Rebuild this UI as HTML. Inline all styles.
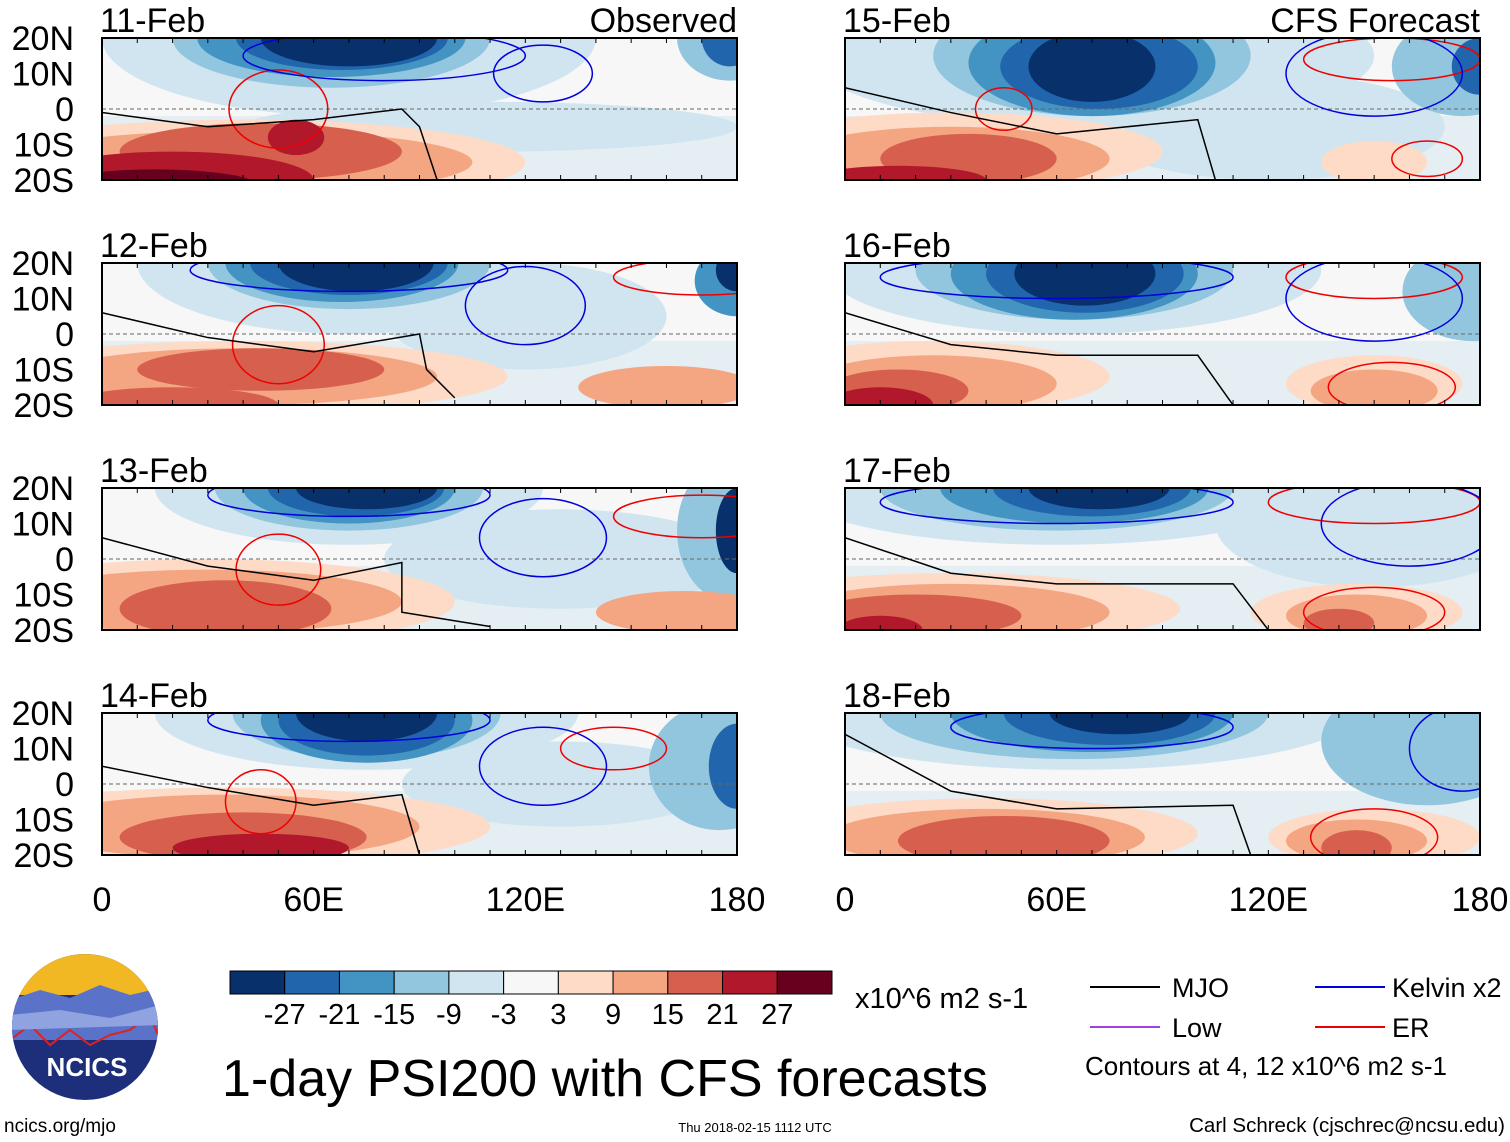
<!DOCTYPE html>
<html><head><meta charset="utf-8"><style>
body{margin:0;background:#fff;width:1510px;height:1142px;overflow:hidden;font-family:"Liberation Sans",sans-serif}
svg{position:absolute;left:0;top:0}
</style></head><body>
<svg id="s" width="1510" height="1142" xmlns="http://www.w3.org/2000/svg"></svg>
<script>
const colors=["#08306b","#2166ac","#4393c3","#92c5de","#d1e5f0","#f7f7f7","#fddbc7","#f4a582","#d6604d","#b2182b","#67001f"];
const levelLabels=["-27","-21","-15","-9","-3","3","9","15","21","27"];
const panelTitles=["11-Feb","12-Feb","13-Feb","14-Feb","15-Feb","16-Feb","17-Feb","18-Feb"];
const latTicks=[20,10,0,-10,-20];
const latLabels=["20N","10N","0","10S","20S"];
const lonTicks=[0,60,120,180];
const lonLabels=["0","60E","120E","180"];
// blobs: [lon, lat, rxDeg, ryDeg, level(-5..5)]
const blobs=[
[[70,20,70,22,-1],[110,-5,70,7,-1],[65,20,45,14,-2],[65,20,38,11,-3],[68,20,30,9,-4],[70,20,25,8,-5],[178,20,15,12,-2],[178,20,8,8,-4],[40,-15,80,12,1],[40,-15,65,9,2],[45,-12,40,8,3],[20,-20,40,8,4],[55,-8,8,5,4],[15,-22,30,5,5]],
[[70,20,60,20,-1],[120,5,40,15,-1],[70,20,40,13,-2],[68,20,33,11,-3],[70,20,28,9,-4],[72,20,22,8,-5],[180,15,12,10,-3],[180,18,6,6,-5],[40,-12,75,10,1],[40,-12,55,8,2],[160,-15,25,6,2],[45,-10,35,6,3],[20,-20,30,5,3]],
[[70,20,55,16,-1],[130,0,50,14,-1],[70,20,38,12,-2],[178,8,15,20,-2],[70,20,30,10,-3],[72,20,25,8,-4],[75,20,20,6,-5],[180,8,6,12,-5],[30,-12,70,12,1],[30,-12,55,9,2],[165,-15,25,6,2],[35,-14,30,8,3]],
[[75,20,60,16,-1],[130,0,45,12,-1],[75,20,38,13,-2],[175,5,20,18,-2],[75,18,30,12,-3],[75,18,25,10,-4],[180,5,8,12,-4],[75,20,20,8,-5],[35,-12,75,11,1],[35,-12,55,9,2],[40,-15,35,7,3],[45,-18,25,4,4]],
[[70,15,80,20,-1],[120,-5,50,15,-1],[70,15,45,17,-2],[175,12,20,14,-2],[70,13,35,15,-3],[72,12,28,12,-4],[180,12,8,8,-4],[70,12,18,10,-5],[30,-12,60,11,1],[150,-15,15,6,1],[30,-14,45,9,2],[35,-14,25,7,3],[15,-20,25,4,4]],
[[65,18,70,18,-1],[65,18,45,14,-2],[178,12,20,14,-2],[65,17,35,13,-3],[68,17,28,11,-4],[68,17,20,9,-5],[25,-12,50,10,1],[150,-14,25,8,1],[25,-14,35,8,2],[150,-16,18,6,2],[15,-16,20,6,3],[10,-20,15,5,4]],
[[60,20,75,16,-1],[150,10,45,18,-1],[60,20,50,12,-2],[65,20,38,10,-3],[70,20,28,8,-4],[72,20,20,6,-5],[30,-14,65,10,1],[145,-15,30,8,1],[30,-15,45,8,2],[145,-16,20,6,2],[20,-16,30,6,3],[140,-18,10,4,3],[10,-20,12,4,4]],
[[65,20,80,16,-1],[65,20,55,13,-2],[165,12,30,18,-2],[70,20,40,11,-3],[75,20,30,9,-4],[78,20,20,6,-5],[40,-14,60,10,1],[150,-15,30,8,1],[40,-15,45,8,2],[145,-16,20,6,2],[45,-16,30,7,3],[145,-18,10,5,3]]
];
const mjoLines=[
[[0,-1],[30,-5],[60,-3],[85,0],[90,-5],[95,-20]],
[[0,6],[30,-1],[60,-5],[90,0],[92,-10],[100,-18]],
[[0,6],[30,-2],[60,-6],[85,-1],[85,-15],[110,-19]],
[[0,5],[30,-1],[60,-6],[85,-3],[90,-20]],
[[0,6],[30,-1],[60,-7],[100,-3],[105,-20]],
[[0,6],[30,-3],[60,-6],[100,-6],[110,-20]],
[[0,6],[30,-4],[60,-7],[110,-7],[120,-20]],
[[0,14],[30,-2],[60,-7],[110,-6],[115,-20]]
];
const erRings=[[[50,0,14,11]],[[50,-3,13,11],[170,16,25,5]],[[50,-3,12,10],[170,12,25,6]],[[45,-5,10,9],[145,10,15,6]],[[45,0,8,6],[155,14,25,6],[165,-14,10,5]],[[150,16,25,6],[155,-15,18,7]],[[150,16,30,6],[150,-15,20,7]],[[150,-15,18,8]]];
const kelvinRings=[[[80,15,40,7],[125,10,14,8]],[[120,8,17,11],[70,18,45,6]],[[125,6,18,11],[70,18,40,6]],[[125,5,18,11],[70,18,40,6]],[[150,10,25,12]],[[150,10,25,12],[60,16,50,6]],[[160,10,25,12],[60,16,50,6]],[[175,10,15,12],[70,16,40,6]]];

const S=document.getElementById('s');const NS="http://www.w3.org/2000/svg";
function mk(t,a,p){const e=document.createElementNS(NS,t);for(const k in a)e.setAttribute(k,a[k]);(p||S).appendChild(e);return e;}
function txt(x,y,s,size,anchor,p){const e=mk('text',{x:x,y:y,'font-size':size,'text-anchor':anchor||'start',fill:'#000'},p);e.textContent=s;return e;}
const PW=635,PH=142;
const lefts=[102,845],tops=[38,263,488,713];
panelTitles.forEach((t,i)=>{
 const col=i<4?0:1,row=i%4,x0=lefts[col],y0=tops[row];
 const X=lon=>x0+lon/180*PW, Y=lat=>y0+(20-lat)/40*PH;
 const g=mk('g',{});
 
 
 mk('clipPath',{id:'c'+i},g);mk('rect',{x:x0,y:y0,width:PW,height:PH},g.lastChild);
 const inner=mk('g',{'clip-path':'url(#c'+i+')'},g);
 mk('rect',{x:x0,y:y0,width:PW,height:PH,fill:colors[5]},inner);
 mk('rect',{x:x0,y:Y(-2),width:PW,height:Y(-20)-Y(-2),fill:colors[4],opacity:0.5},inner);
 blobs[i].forEach(b=>{const e=mk('ellipse',{cx:X(b[0]),cy:Y(b[1]),rx:b[2]/180*PW,ry:b[3]/40*PH,fill:colors[b[4]+5]},inner);
  });
 mk('line',{x1:x0,x2:x0+PW,y1:Y(0),y2:Y(0),stroke:'#666','stroke-dasharray':'4,3','stroke-width':1},inner);
 erRings[i].forEach(r=>{const e=mk('ellipse',{cx:X(r[0]),cy:Y(r[1]),rx:r[2]/180*PW,ry:r[3]/40*PH,fill:'none',stroke:'#e00','stroke-width':1.5},inner);});
 kelvinRings[i].forEach(r=>{const e=mk('ellipse',{cx:X(r[0]),cy:Y(r[1]),rx:r[2]/180*PW,ry:r[3]/40*PH,fill:'none',stroke:'#00d','stroke-width':1.5},inner);});
 const ml=mk('polyline',{points:mjoLines[i].map(p=>X(p[0])+','+Y(p[1])).join(' '),fill:'none',stroke:'#000','stroke-width':1.5},inner);
 
 mk('rect',{x:x0,y:y0,width:PW,height:PH,fill:'none',stroke:'#000','stroke-width':2},g);
 for(let l=0;l<=180;l+=10){mk('line',{x1:X(l),x2:X(l),y1:y0,y2:y0+5,stroke:'#000'},g);mk('line',{x1:X(l),x2:X(l),y1:y0+PH,y2:y0+PH-5,stroke:'#000'},g);}
 const tt=txt(x0-2,y0-6,t,34,'start',g);
 if(i==0)txt(x0+PW,y0-6,'Observed',34,'end',g);
 if(i==4)txt(x0+PW,y0-6,'CFS Forecast',34,'end',g);
 if(col==0)latTicks.forEach((v,k)=>{const e=txt(74,Y(v)+12,latLabels[k],34,'end',g);});
 if(row==3)lonTicks.forEach((v,k)=>{const e=txt(X(v),911,lonLabels[k],34,'middle',g);});
});
const cb=mk('g',{});
const bw=602/colors.length;
colors.forEach((c,k)=>mk('rect',{x:230+k*bw,y:971,width:bw,height:23,fill:c,stroke:'#000','stroke-width':1},cb));
levelLabels.forEach((s,k)=>txt(230+(k+1)*bw,1024,s,29,'middle',cb));
txt(855,1008,'x10^6 m2 s-1',29,'start',cb);
const ti=txt(605,1096,'1-day PSI200 with CFS forecasts',52,'middle');
const lg=mk('g',{});
[[1090,987,'#000','MJO',1172],[1090,1027,'#a040e0','Low',1172],[1315,987,'#00d','Kelvin x2',1392],[1315,1027,'#e00','ER',1392]].forEach(a=>{
 mk('line',{x1:a[0],x2:a[0]+70,y1:a[1],y2:a[1],stroke:a[2],'stroke-width':2},lg);txt(a[4],a[1]+10,a[3],27,'start',lg);});
txt(1085,1075,'Contours at 4, 12 x10^6 m2 s-1',26,'start',lg);
const lo=mk('g',{});
mk('clipPath',{id:'lc'},lo);mk('circle',{cx:85,cy:1027,r:73},lo.lastChild);
const li=mk('g',{'clip-path':'url(#lc)'},lo);
mk('rect',{x:0,y:950,width:170,height:160,fill:'#1d2f7a'},li);
mk('rect',{x:0,y:950,width:170,height:45,fill:'#f2b823'},li);
mk('path',{d:'M10 1000 L40 990 L70 998 L100 985 L130 995 L160 988 L160 1040 L10 1040Z',fill:'#5a73c8'},li);
mk('path',{d:'M10 1040 L30 1025 L50 1045 L70 1030 L90 1045 L110 1035 L130 1030 L150 1015 L160 1040',fill:'none',stroke:'#e02020','stroke-width':2},li);
mk('path',{d:'M10 1015 L60 1010 L110 1018 L160 1005 L160 1025 L10 1030Z',fill:'#8fa3e0'},li);
const lt=txt(87,1076,'NCICS',26,'middle',lo);lt.setAttribute('fill','#fff');lt.setAttribute('font-weight','bold');
txt(4,1132,'ncics.org/mjo',19,'start');
txt(755,1132,'Thu 2018-02-15 1112 UTC',13,'middle');
txt(1505,1132,'Carl Schreck (cjschrec@ncsu.edu)',20.5,'end');
</script></body></html>
